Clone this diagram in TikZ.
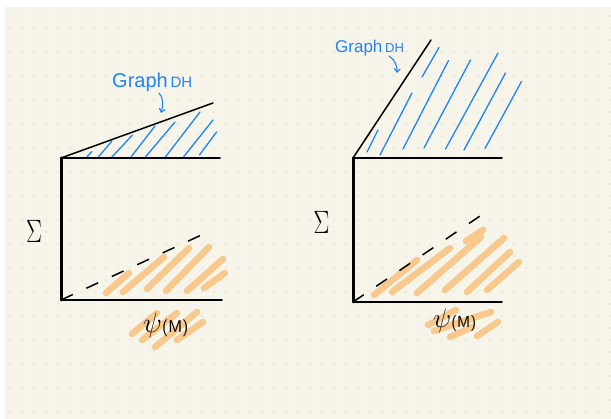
\documentclass[tikz,border=0pt]{standalone}
\usepackage{fontspec}
\newfontfamily\handfont{Liberation Sans}
\usetikzlibrary{arrows.meta}
\definecolor{paper}{RGB}{247,244,233}
\definecolor{griddot}{RGB}{224,221,208}
\definecolor{hatchblue}{RGB}{30,132,250}
\definecolor{peach}{RGB}{248,200,140}
\begin{document}
\begin{tikzpicture}[x=1pt,y=-1pt,
  axisv/.style={line width=3pt,black,line cap=round},
  axish/.style={line width=1.8pt,black,line cap=round},
  slopeline/.style={line width=1.5pt,black,line cap=round},
  dashline/.style={line width=1.5pt,black,dash pattern=on 13pt off 15pt},
  hatch/.style={line width=1.3pt,hatchblue,line cap=round},
  peachstroke/.style={line width=6.5pt,peach,line cap=round},
  bluelabel/.style={inner sep=0pt,anchor=base west,text=hatchblue,font=\handfont},
  psilabel/.style={inner sep=0pt,anchor=base west,text=black},
  sigmalabel/.style={inner sep=0pt,text=black,font=\Huge},
  pointer/.style={line width=1.1pt,hatchblue,line cap=round,-{Straight Barb[length=3.5pt,width=6pt]}}
]
\useasboundingbox (0,0) rectangle (611,419);
\fill[white] (0,0) rectangle (611,419);
\fill[paper] (5,7) rectangle (611,419);
\foreach \i in {0,...,50}{
  \foreach \j in {0,...,33}{
    \fill[griddot] (10+12*\i,16+12*\j) circle[radius=0.8pt];
  }
}

% ---------- left diagram ----------
\coordinate (LT) at (61,158);
\coordinate (LB) at (61,300);
\coordinate (LTR) at (220,158);
\coordinate (LBR) at (222,300);
\coordinate (LS) at (213,103);
\coordinate (LD) at (210,231);

% peach strokes (left)
\draw[peachstroke] (106,293) -- (129,273);
\draw[peachstroke] (123,292) -- (164,257);
\draw[peachstroke] (147,289) -- (189,248);
\draw[peachstroke] (166,291) -- (209,247);
\draw[peachstroke] (187,291) -- (223,259);
\draw[peachstroke] (204,288) -- (225,273);
% peach strokes under psi(M) left
\draw[peachstroke] (132,334) -- (157,313);
\draw[peachstroke] (142,340) -- (177,313);
\draw[peachstroke] (155,347) -- (197,312);
\draw[peachstroke] (177,340) -- (203,322);

% blue hatch (left)
\draw[hatch] (86,158) -- (92,151.5);
\draw[hatch] (97.5,158) -- (112,141);
\draw[hatch] (111,158) -- (132.5,135);
\draw[hatch] (131,157) -- (155,126);
\draw[hatch] (145,157.5) -- (175,122);
\draw[hatch] (165,157.5) -- (200,112);
\draw[hatch] (183.5,157) -- (213,120);
\draw[hatch] (199.5,155) -- (216.5,132);

\draw[axisv] (LT) -- (LB);
\draw[axish] (LT) -- (LTR);
\draw[axish] (LB) -- (LBR);
\draw[slopeline] (LT) -- (LS);
\draw[dashline] (LB) -- (LD);

\node[sigmalabel] (sigL) at (34,231) {\scalebox{0.95}[1.3]{$\Sigma$}};
\node[bluelabel] (graphL) at (112,88) {{\fontsize{20}{20}\selectfont Graph} {\fontsize{15}{15}\selectfont DH}};
\coordinate (arLs) at (159,93);
\coordinate (arLe) at (161,113);
\draw[pointer] (arLs) .. controls (164,98) and (163,106) .. (arLe);
\node[psilabel] (psiL) at (143,333) {\scalebox{1.35}{\fontsize{20}{20}\selectfont$\psi$}{\sffamily\fontsize{17}{17}\selectfont(M)}};

% ---------- right diagram ----------
\coordinate (RT) at (353,158);
\coordinate (RB) at (353,302);
\coordinate (RTR) at (502,158);
\coordinate (RBR) at (502,302);
\coordinate (RS) at (431,40);
\coordinate (RD) at (483,214);

% peach strokes (right)
\draw[peachstroke] (374,295) -- (417,260);
\draw[peachstroke] (392,292) -- (450,248);
\draw[peachstroke] (417,293) -- (481,237);
\draw[peachstroke] (466,241) -- (483,230);
\draw[peachstroke] (445,290) -- (504,238);
\draw[peachstroke] (467,292) -- (510,252);
\draw[peachstroke] (487,290) -- (519,262);
% peach strokes under psi(M) right
\draw[peachstroke] (428,325) -- (456,310);
\draw[peachstroke] (434,331) -- (491,312);
\draw[peachstroke] (450,337) -- (472,327);
\draw[peachstroke] (477,336) -- (498,322);

% blue hatch (right)
\draw[hatch] (367,152) -- (378,130);
\draw[hatch] (380,155) -- (412,93);
\draw[hatch] (403,149) -- (448.5,60.5);
\draw[hatch] (422,77) -- (439,47.5);
\draw[hatch] (424,148) -- (470.5,60);
\draw[hatch] (445.5,149) -- (498,53);
\draw[hatch] (464,150) -- (505.5,73);
\draw[hatch] (485,148.5) -- (521.5,81.5);

\draw[axisv] (RT) -- (RB);
\draw[axish] (RT) -- (RTR);
\draw[axish] (RB) -- (RBR);
\draw[slopeline] (RT) -- (RS);
\draw[dashline] (RB) -- (RD);

\node[sigmalabel] (sigR) at (321.5,222) {\scalebox{0.95}[1.3]{$\Sigma$}};
\node[bluelabel] (graphR) at (335,53) {{\fontsize{17}{17}\selectfont Graph} {\fontsize{13}{13}\selectfont DH}};
\coordinate (arRs) at (389,56);
\coordinate (arRe) at (397,73);
\draw[pointer] (arRs) .. controls (395,60) and (397.5,66) .. (arRe);
\node[psilabel] (psiR) at (433,328) {\scalebox{1.3}{\fontsize{20}{20}\selectfont$\psi$}{\sffamily\fontsize{16}{16}\selectfont(M)}};
\end{tikzpicture}
\end{document}
